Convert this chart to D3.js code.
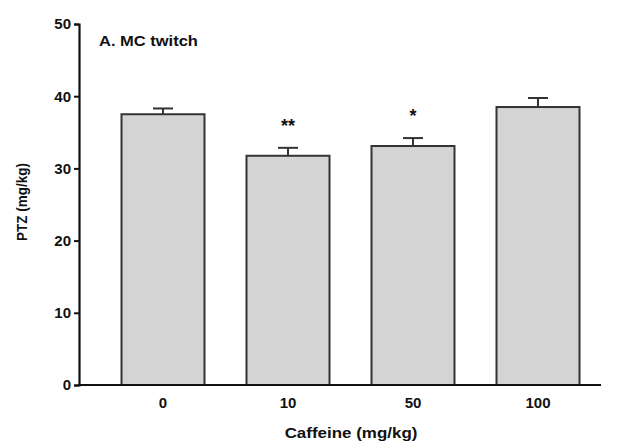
<!DOCTYPE html>
<html><head><meta charset="utf-8">
<script src="https://cdn.jsdelivr.net/npm/d3@7"></script>
<style>body{margin:0;background:#fff}svg{display:block}text{font-family:"Liberation Sans",Arial,sans-serif;font-weight:bold;fill:#111}</style>
</head><body><svg id="c" width="622" height="442"></svg>
<script>
const categories = ["0","10","50","100"];
const means = [37.5, 31.75, 33.1, 38.5];
const errors = [0.8, 1.1, 1.1, 1.25];
const marks = ["", "**", "*", ""];
const yTicks = [0,10,20,30,40,50];

const svg = d3.select("#c");
const x = d3.scaleBand().domain(categories).range([100.5, 600.5]).paddingInner(0.336).paddingOuter(0.168);
const y = d3.scaleLinear().domain([0,50]).range([385,24]);

const g = svg.append("g");
g.selectAll("rect.bar").data(categories).join("rect").attr("class","bar")
  .attr("x", d=>x(d)).attr("width", x.bandwidth())
  .attr("y", (d,i)=>y(means[i])).attr("height",(d,i)=>y(0)-y(means[i]))
  .attr("fill","#d4d4d4").attr("stroke","#333").attr("stroke-width",2);

// error bars
categories.forEach((d,i)=>{
  const cx = x(d)+x.bandwidth()/2;
  g.append("line").attr("x1",cx).attr("x2",cx).attr("y1",y(means[i])).attr("y2",y(means[i]+errors[i])).attr("stroke","#333").attr("stroke-width",2);
  g.append("line").attr("x1",cx-10).attr("x2",cx+10).attr("y1",y(means[i]+errors[i])).attr("y2",y(means[i]+errors[i])).attr("stroke","#333").attr("stroke-width",2);
  if (marks[i]) g.append("text").attr("x",cx).attr("y",y(means[i]+errors[i])-16).attr("text-anchor","middle").attr("font-size",18).text(marks[i]);
});

// y axis
const ya = svg.append("g").attr("transform","translate(79,0)")
  .call(d3.axisLeft(y).tickValues(yTicks).tickSize(5).tickPadding(3));
ya.select(".domain").attr("stroke","#111").attr("stroke-width",2.2);
ya.selectAll(".tick line").attr("stroke","#111").attr("stroke-width",2);
ya.selectAll(".tick text").attr("font-size",15).attr("font-family","Liberation Sans, Arial, sans-serif").attr("font-weight","bold").attr("fill","#111");

// x axis
const xa = svg.append("g").attr("transform","translate(0,385)")
  .call(d3.axisBottom(x).tickSize(0).tickPadding(12));
xa.select(".domain").attr("d","M78,0H601").attr("stroke","#111").attr("stroke-width",2.2);
xa.selectAll(".tick text").attr("font-size",15).attr("font-family","Liberation Sans, Arial, sans-serif").attr("font-weight","bold").attr("fill","#111");

svg.append("text").attr("transform","translate(99,45.5) scale(1.1,1)").attr("font-size",15).text("A. MC twitch");
svg.append("text").attr("transform","translate(351,438) scale(1.13,1)").attr("text-anchor","middle").attr("font-size",15).text("Caffeine (mg/kg)");
svg.append("text").attr("transform","translate(27,202) rotate(-90) scale(1,1.1)").attr("text-anchor","middle").attr("font-size",13.5).text("PTZ (mg/kg)");
</script></body></html>
